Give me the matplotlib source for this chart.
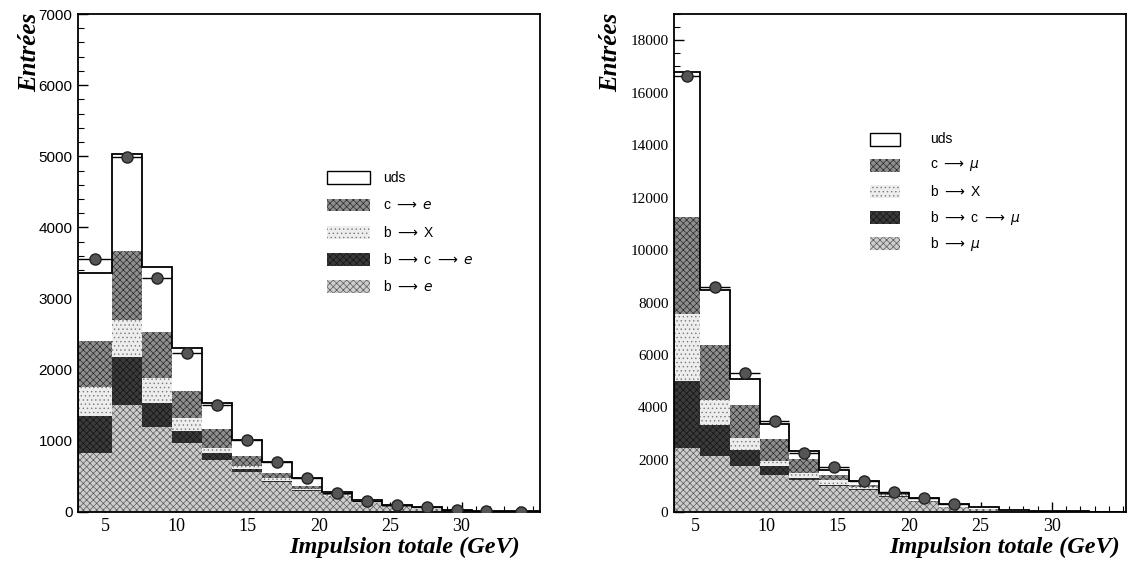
import matplotlib.pyplot as plt
import numpy as np
from matplotlib.patches import Rectangle

# bin edges in GeV
edges_e = [3.1, 5.5, 7.6, 9.7, 11.8, 13.9, 16.0, 18.1, 20.2, 22.3, 24.4, 26.5, 28.6, 30.7, 32.8, 35.5]
edges_mu = [3.5, 5.3, 7.4, 9.5, 11.6, 13.7, 15.8, 17.9, 20.0, 22.1, 24.2, 26.3, 28.4, 30.5, 32.6, 35.2]

# electron sample, contributions per bin (stacked bottom -> top)
b_e = [825, 1504, 1200, 965, 731, 567, 426, 300, 220, 130, 70, 40, 15, 8, 4]
b_c_e = [529, 671, 337, 174, 94, 33, 15, 10, 5, 3, 2, 1, 1, 0, 0]
b_x_e = [408, 524, 342, 177, 70, 47, 32, 20, 10, 6, 4, 2, 1, 1, 0]
c_e = [646, 970, 656, 390, 267, 140, 80, 33, 20, 12, 8, 5, 2, 1, 1]
uds_e = [947, 1363, 905, 599, 375, 225, 145, 110, 31, 18, 14, 18, 9, 5, 5]
data_e = [3556, 4990, 3294, 2230, 1504, 1012, 700, 473, 262, 160, 98, 75, 28, 19, 5]

# muon sample
b_mu = [2455, 2161, 1752, 1434, 1216, 987, 860, 600, 380, 190, 120, 60, 35, 20, 10]
b_c_mu = [2547, 1185, 638, 318, 91, 60, 40, 20, 10, 5, 3, 2, 1, 1, 0]
b_x_mu = [2551, 931, 446, 191, 193, 190, 60, 30, 15, 8, 5, 3, 2, 1, 1]
c_mu = [3697, 2090, 1275, 856, 534, 194, 80, 40, 20, 10, 8, 5, 3, 2, 1]
uds_mu = [5550, 2115, 982, 585, 292, 176, 138, 68, 117, 112, 62, 26, 19, 16, 8]
data_mu = [16630, 8573, 5322, 3473, 2264, 1727, 1178, 770, 542, 325]

arr = " $\\longrightarrow$ "
labels_e = ["uds", "c" + arr + "$e$", "b" + arr + "X", "b" + arr + "c" + arr + "$e$", "b" + arr + "$e$"]
labels_mu = ["uds", "c" + arr + "$\\mu$", "b" + arr + "X", "b" + arr + "c" + arr + "$\\mu$", "b" + arr + "$\\mu$"]

plt.rcParams['hatch.linewidth'] = 0.5
plt.rcParams['mathtext.fontset'] = 'dejavusans'

# style for each component: (facecolor, hatch, hatch colour)
styles = {
    'uds': ('white', None, 'black'),
    'c': ('#8e8e8e', 'xxxxx', '#2a2a2a'),
    'bx': ('#ededed', '....', '#7a7a7a'),
    'bc': ('#3a3a3a', 'xxxxx', '#151515'),
    'b': ('#cdcdcd', 'xxxxx', '#5a5a5a'),
}
order = ['uds', 'c', 'bx', 'bc', 'b']

fig = plt.figure(figsize=(11.28, 5.63), dpi=100)
ax1 = fig.add_axes([0.0691, 0.0906, 0.4096, 0.8845])
ax2 = fig.add_axes([0.5975, 0.0899, 0.4007, 0.8853])


def draw(ax, edges, comps, data, ymax, ymajor, yminor, ylabfam):
    edges = np.array(edges)
    bottom = np.zeros(len(edges) - 1)
    # bottom -> top: b, bc, bx, c, uds
    for key in ['b', 'bc', 'bx', 'c', 'uds']:
        vals = np.array(comps[key], dtype=float)
        fc, hatch, hc = styles[key]
        ax.stairs(bottom + vals, edges, baseline=bottom.copy(), fill=True,
                  facecolor=fc, hatch=hatch, edgecolor=hc, linewidth=0, zorder=2)
        bottom = bottom + vals
    ax.stairs(bottom, edges, color='black', linewidth=1.3, zorder=3)

    n = len(data)
    centers = 0.5 * (edges[:-1] + edges[1:])[:n]
    halfw = 0.5 * np.diff(edges)[:n]
    ax.errorbar(centers, data, xerr=halfw, fmt='o', color='black', ms=8,
                mfc='#555555', mec='#222222', elinewidth=1.0, capsize=0, zorder=4)

    ax.set_xlim(edges[0], edges[-1])
    ax.set_ylim(0, ymax)
    ax.set_xticks([5, 10, 15, 20, 25, 30])
    ax.set_xticks(np.arange(4, 36, 1), minor=True)
    ax.set_yticks(np.arange(0, ymax + 1, ymajor))
    ax.set_yticks(np.arange(0, ymax + 1, yminor), minor=True)
    ax.tick_params(which='both', direction='in', top=False, right=False)
    ax.tick_params(which='major', length=7, width=1)
    ax.tick_params(which='minor', length=4, width=0.8)
    ax.tick_params(axis='x', labelsize=13, labelfontfamily='Liberation Serif', pad=4)
    ax.tick_params(axis='y', labelsize=11, labelfontfamily=ylabfam, pad=4)
    for s in ax.spines.values():
        s.set_linewidth(1.3)


comps_e = {'b': b_e, 'bc': b_c_e, 'bx': b_x_e, 'c': c_e, 'uds': uds_e}
comps_mu = {'b': b_mu, 'bc': b_c_mu, 'bx': b_x_mu, 'c': c_mu, 'uds': uds_mu}

draw(ax1, edges_e, comps_e, data_e, 7000, 1000, 200, 'Liberation Sans')
draw(ax2, edges_mu, comps_mu, data_mu, 19000, 2000, 500, 'Liberation Serif')


def legend(ax, labels, x0, w, y0, step, xt):
    for i, (key, lab) in enumerate(zip(order, labels)):
        fc, hatch, hc = styles[key]
        y = y0 - i * step
        ax.add_patch(Rectangle((x0, y - 0.013), w, 0.026, transform=ax.transAxes,
                               facecolor=fc, hatch=hatch, edgecolor=hc,
                               linewidth=0, zorder=5))
        if key == 'uds':
            ax.add_patch(Rectangle((x0, y - 0.013), w, 0.026, transform=ax.transAxes,
                                   facecolor='none', edgecolor='black', linewidth=1.0, zorder=6))
        ax.text(xt, y, lab, transform=ax.transAxes, ha='left', va='center',
                fontsize=10, family=['Liberation Sans', 'DejaVu Sans'], zorder=6)


legend(ax1, labels_e, 0.539, 0.093, 0.671, 0.0545, 0.66)
legend(ax2, labels_mu, 0.434, 0.066, 0.749, 0.0525, 0.566)

tfont = dict(fontweight='bold', fontstyle='italic', family='Liberation Serif')
fig.text(0.0266, 0.978, 'Entrées', rotation=90, ha='center', va='top', fontsize=18, **tfont)
fig.text(0.541, 0.978, 'Entrées', rotation=90, ha='center', va='top', fontsize=18, **tfont)
fig.text(0.461, 0.027, 'Impulsion totale (GeV)', ha='right', va='center', fontsize=17.5, **tfont)
fig.text(0.993, 0.027, 'Impulsion totale (GeV)', ha='right', va='center', fontsize=17.5, **tfont)

fig.savefig('out.png', dpi=100)
